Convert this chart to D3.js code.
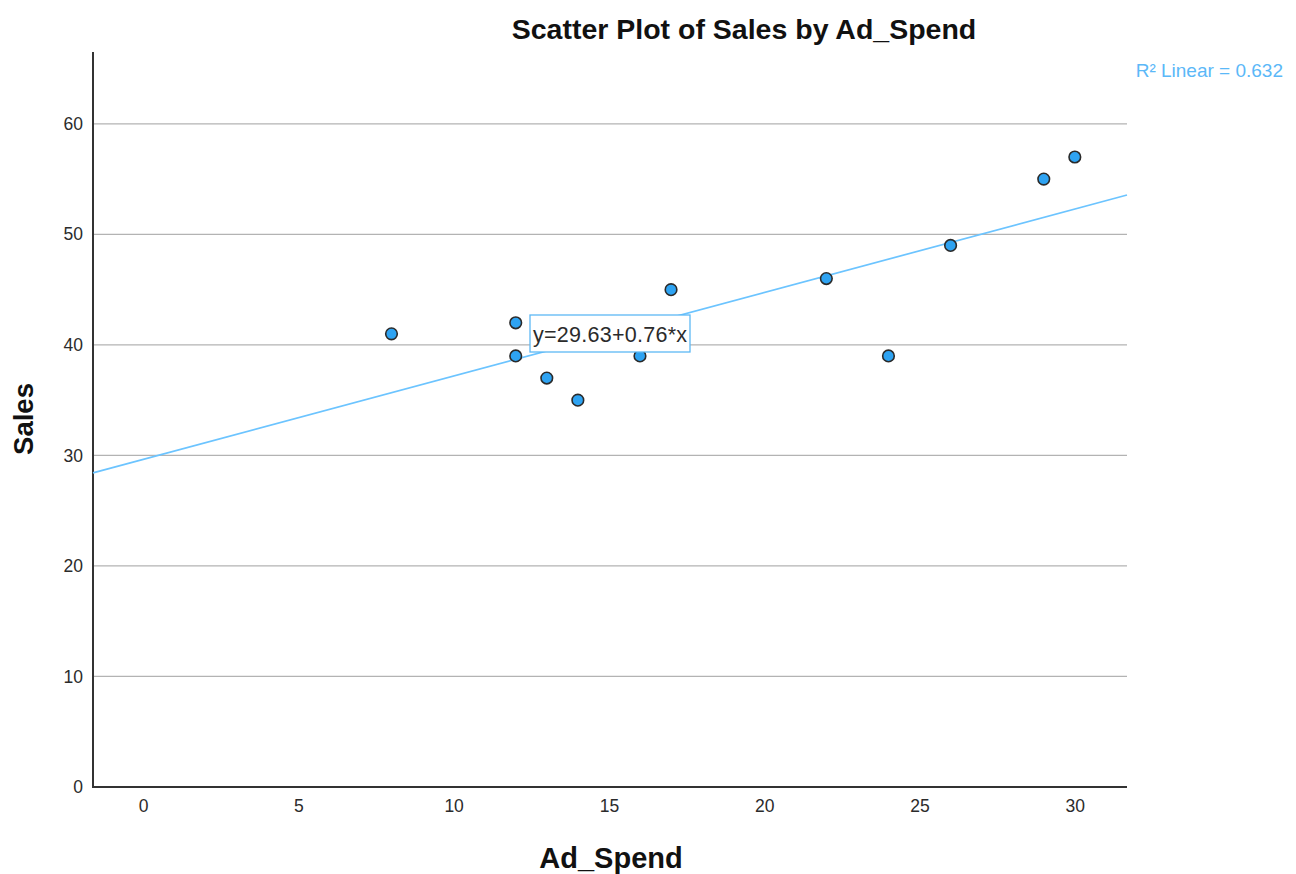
<!DOCTYPE html>
<html>
<head>
<meta charset="utf-8">
<script src="https://cdn.jsdelivr.net/npm/d3@7"></script>
<style>
  body { margin: 0; background: #fff; }
  text { font-family: "Liberation Sans", Arial, sans-serif; }
</style>
</head>
<body>
<div id="chart"></div>
<script>
let adSpend = [8, 12, 12, 13, 14, 16, 17, 22, 24, 26, 29, 30];
let sales = [41, 42, 39, 37, 35, 39, 45, 46, 39, 49, 55, 57];
let xTicks = [0, 5, 10, 15, 20, 25, 30];
let yTicks = [0, 10, 20, 30, 40, 50, 60];
let fitLabel = "y=29.63+0.76*x";
let r2Label = "R\u00b2 Linear = 0.632";

let width = 1296, height = 874;
let plot = { left: 93, right: 1127, top: 52, bottom: 787 };

let svg = d3.select("#chart").append("svg")
	.attr("width", width)
	.attr("height", height);

let x = d3.scaleLinear().domain([-1.61, 31.68]).range([plot.left, plot.right]);
let y = d3.scaleLinear().domain([0, 66.5]).range([plot.bottom, plot.top]);

// gridlines
svg.append("g")
	.selectAll("line")
	.data(yTicks.filter((d) => d > 0))
	.join("line")
	.attr("x1", plot.left)
	.attr("x2", plot.right)
	.attr("y1", (d) => y(d))
	.attr("y2", (d) => y(d))
	.attr("stroke", "#b3b3b3")
	.attr("stroke-width", 1.3);

// axes, no tick marks
let xAxis = svg.append("g")
	.attr("transform", "translate(0," + plot.bottom + ")")
	.call(d3.axisBottom(x).tickValues(xTicks).tickSize(0).tickPadding(13));
let yAxis = svg.append("g")
	.attr("transform", "translate(" + plot.left + ",0)")
	.call(d3.axisLeft(y).tickValues(yTicks).tickSize(0).tickPadding(10));

[xAxis, yAxis].forEach((g) => {
	g.select(".domain").remove();
	g.selectAll("text")
		.attr("font-size", 17.5)
		.attr("fill", "#2b2b2b")
		.style("font-family", "'Liberation Sans', Arial, sans-serif");
});

svg.append("line")
	.attr("x1", plot.left).attr("x2", plot.left)
	.attr("y1", plot.top).attr("y2", plot.bottom + 1)
	.attr("stroke", "#333").attr("stroke-width", 2);
svg.append("line")
	.attr("x1", plot.left - 1).attr("x2", plot.right)
	.attr("y1", plot.bottom).attr("y2", plot.bottom)
	.attr("stroke", "#333").attr("stroke-width", 2);

// least squares fit
let mx = d3.mean(adSpend), my = d3.mean(sales);
let sxy = d3.sum(adSpend, (d, i) => (d - mx) * (sales[i] - my));
let sxx = d3.sum(adSpend, (d) => (d - mx) * (d - mx));
let slope = sxy / sxx;
let intercept = my - slope * mx;
let xd = x.domain();

svg.append("line")
	.attr("x1", x(xd[0]))
	.attr("y1", y(intercept + slope * xd[0]))
	.attr("x2", x(xd[1]))
	.attr("y2", y(intercept + slope * xd[1]))
	.attr("stroke", "#6cc4ff")
	.attr("stroke-width", 1.7);

// points
svg.append("g")
	.selectAll("circle")
	.data(adSpend)
	.join("circle")
	.attr("cx", (d) => x(d))
	.attr("cy", (d, i) => y(sales[i]))
	.attr("r", 5.8)
	.attr("fill", "#2ea3f2")
	.attr("stroke", "#2a2a2a")
	.attr("stroke-width", 1.6);

// fit label box
let lbl = svg.append("g").attr("transform", "translate(530,315)");
lbl.append("rect")
	.attr("width", 160).attr("height", 37)
	.attr("fill", "#fff")
	.attr("stroke", "#5db8f5")
	.attr("stroke-width", 1.3);
lbl.append("text")
	.attr("x", 3).attr("y", 27)
	.attr("font-size", 21.5)
	.attr("textLength", 154)
	.attr("fill", "#2b2b2b")
	.text(fitLabel);

svg.append("text")
	.attr("x", 1283).attr("y", 77)
	.attr("text-anchor", "end")
	.attr("font-size", 19)
	.attr("fill", "#5bb8f8")
	.text(r2Label);

// titles
svg.append("text")
	.attr("x", 744).attr("y", 39)
	.attr("text-anchor", "middle")
	.attr("font-size", 28.5)
	.attr("font-weight", "bold")
	.attr("fill", "#111")
	.text("Scatter Plot of Sales by Ad_Spend");

svg.append("text")
	.attr("x", 611).attr("y", 868)
	.attr("text-anchor", "middle")
	.attr("font-size", 29)
	.attr("font-weight", "bold")
	.attr("fill", "#111")
	.text("Ad_Spend");

svg.append("text")
	.attr("transform", "translate(33,419) rotate(-90)")
	.attr("text-anchor", "middle")
	.attr("font-size", 27.5)
	.attr("font-weight", "bold")
	.attr("fill", "#111")
	.text("Sales");
</script>
</body>
</html>
